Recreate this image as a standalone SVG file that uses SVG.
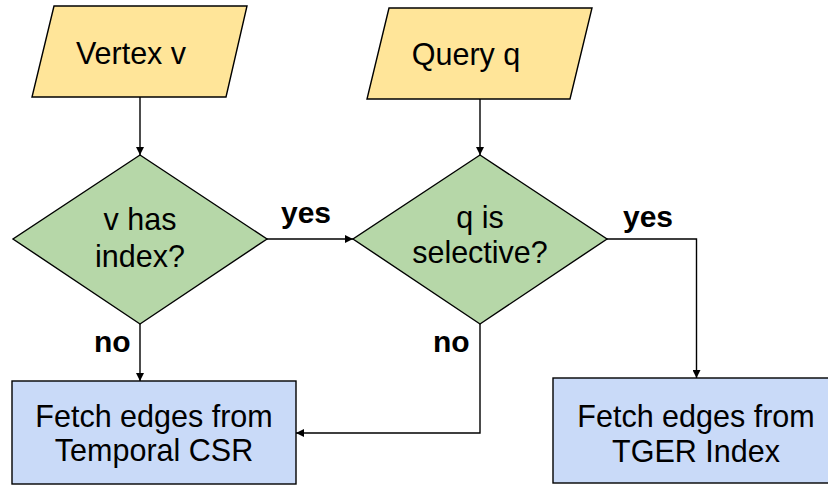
<svg xmlns="http://www.w3.org/2000/svg" width="828" height="485" viewBox="0 0 828 485">
<style>
.io{fill:#ffe599;stroke:#000;stroke-width:1.4}
.dec{fill:#b6d7a8;stroke:#000;stroke-width:1.4}
.proc{fill:#c9daf8;stroke:#000;stroke-width:1.4}
.t{font-family:"Liberation Sans",Arial,sans-serif;font-size:30.5px;fill:#000;text-anchor:middle}
.lbl{font-family:"Liberation Sans",Arial,sans-serif;font-size:30px;font-weight:bold;fill:#000}
.c{fill:none;stroke:#000;stroke-width:1.4}
</style>
<defs>
<marker id="ah" viewBox="0 0 10 10" refX="10" refY="5" markerWidth="8" markerHeight="8" markerUnits="userSpaceOnUse" orient="auto">
<path d="M0,0 L10,5 L0,10 z" fill="#000"/>
</marker>
</defs>
<rect width="828" height="485" fill="#fff"/>
<g id="connectors">
<line class="c" x1="140" y1="97" x2="140" y2="155" marker-end="url(#ah)"/>
<line class="c" x1="480" y1="99" x2="480" y2="155" marker-end="url(#ah)"/>
<line class="c" x1="267" y1="239" x2="353" y2="239" marker-end="url(#ah)"/>
<polyline class="c" points="607,239 696.5,239 696.5,378" marker-end="url(#ah)"/>
<line class="c" x1="140" y1="324" x2="140" y2="381" marker-end="url(#ah)"/>
<polyline class="c" points="480,324 480,433 296,433" marker-end="url(#ah)"/>
<text class="lbl" x="281" y="223">yes</text>
<text class="lbl" x="623" y="227">yes</text>
<text class="lbl" x="94" y="352">no</text>
<text class="lbl" x="433" y="352">no</text>
</g>
<g id="vertex">
<polygon class="io" points="54,6 247,6 226,97 32,97"/>
<text class="t" x="131" y="64">Vertex v</text>
</g>
<g id="query">
<polygon class="io" points="389,8 592,8 570,99 367,99"/>
<text class="t" x="466" y="65">Query q</text>
</g>
<g id="hasindex">
<polygon class="dec" points="140,155 267,239 140,324 13,239"/>
<text class="t" x="140" y="230">v has</text>
<text class="t" x="140" y="267">index?</text>
</g>
<g id="selective">
<polygon class="dec" points="480,155 607,239 480,324 353,239"/>
<text class="t" x="480" y="228">q is</text>
<text class="t" x="480" y="263">selective?</text>
</g>
<g id="csr">
<rect class="proc" x="12" y="381" width="284" height="103"/>
<text class="t" x="154" y="427">Fetch edges from</text>
<text class="t" x="154" y="461">Temporal CSR</text>
</g>
<g id="tger">
<rect class="proc" x="553" y="378" width="286" height="105"/>
<text class="t" x="696" y="427">Fetch edges from</text>
<text class="t" x="696" y="462">TGER Index</text>
</g>
</svg>
